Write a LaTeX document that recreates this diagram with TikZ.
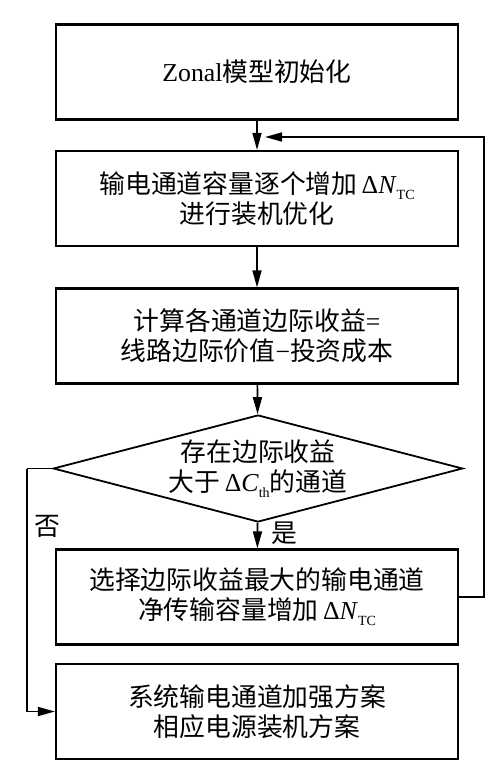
\documentclass[tikz,border=0pt]{standalone}
\usepackage{fontspec}
\setmainfont{Noto Sans CJK SC}
\newfontfamily\tnr{Liberation Serif}
\usetikzlibrary{arrows.meta,shapes.geometric}
\newcommand{\dNtc}{{\tnr\,Δ\textit{N}\raisebox{-3pt}{\scriptsize TC}}}
\newcommand{\dCth}{{\tnr\,Δ\textit{C}\raisebox{-3pt}{\scriptsize th}}}

\begin{document}
\begin{tikzpicture}[x=0.5pt,y=-0.5pt,font=\fontsize{12.9}{15}\selectfont,
 procbox/.style={draw,line width=1.1pt,minimum width=201pt,minimum height=47.5pt,inner sep=0pt,align=center},
 testbox/.style={draw,diamond,aspect=4,line width=0.9pt,minimum width=200pt,minimum height=53.5pt,inner sep=0pt,align=center},
 flow/.style={line width=0.85pt,-{Triangle[length=8.5pt,width=4.5pt]}}]
 \useasboundingbox(0,0)rectangle(503,775);
 \node[procbox](init)at(257,72){{\tnr Zonal}模型初始化};
 \node[procbox](step)at(257,198.5){输电通道容量逐个增加\dNtc\\进行装机优化};
 \node[procbox](gain)at(257,336){计算各通道边际收益{\tnr =}\\线路边际价值{\tnr −}投资成本};
 \node[testbox](test)at(258,468.5){存在边际收益\\大于\dCth 的通道};
 \node[procbox](pick)at(257,597){选择边际收益最大的输电通道\\净传输容量增加\dNtc};
 \node[procbox](plan)at(257,711.5){系统输电通道加强方案\\相应电源装机方案};
 \coordinate(nobend)at(27,468.5);
 \coordinate(back)at(265,137);
 \draw[flow](init)--(step);
 \draw[flow](step)--(gain);
 \draw[flow](gain)--(test);
 \draw[flow](test)--node[pos=.4,right=3pt]{是}(pick);
 \draw[line width=0.85pt](test.west)--(nobend);
 \draw[flow](nobend)|-node[pos=.12,right=0pt]{否}(plan.west);
 \draw[flow](pick.east)--++(25,0)|-(back);
\end{tikzpicture}
\end{document}
